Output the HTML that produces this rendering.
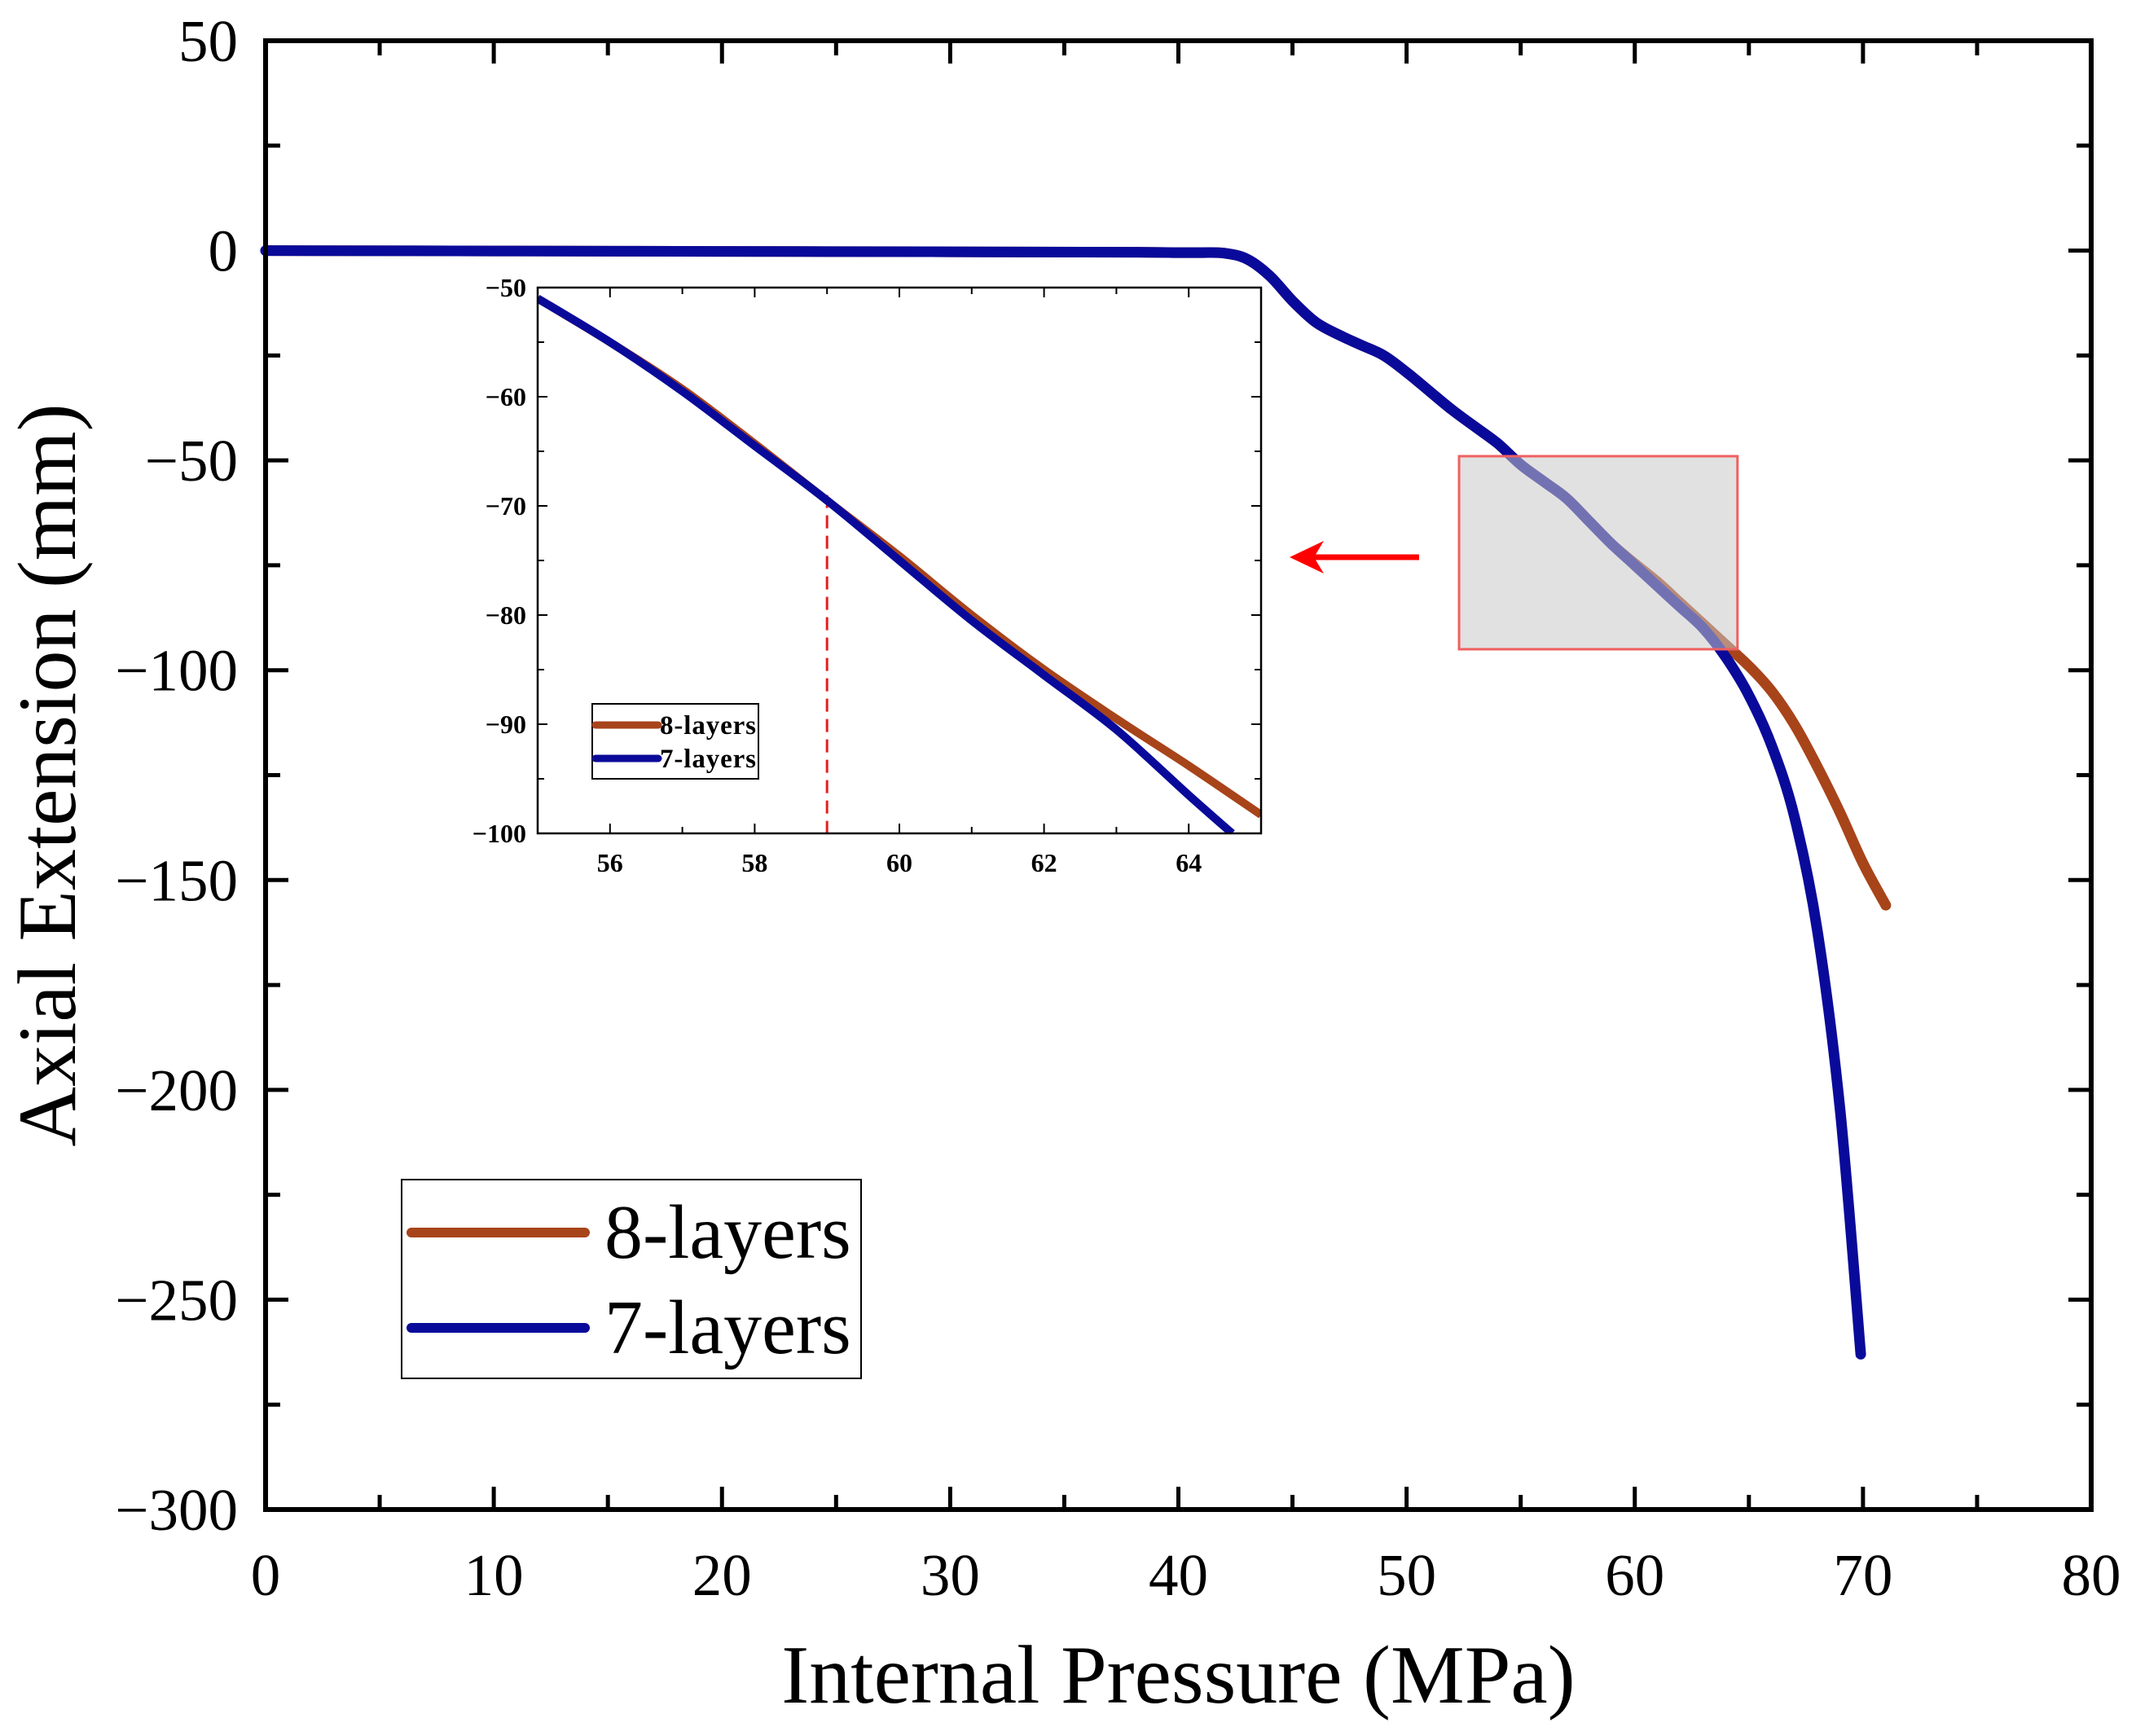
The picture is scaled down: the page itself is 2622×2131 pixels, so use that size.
<!DOCTYPE html>
<html><head><meta charset="utf-8"><style>
html,body{margin:0;padding:0;background:#fff}
svg{display:block;font-family:"Liberation Serif",serif}
</style></head><body>
<svg id="c" width="2622" height="2131" viewBox="0 0 2622 2131"></svg>
<script>
const xTicks=[0,10,20,30,40,50,60,70,80];
const yTicks=[50,0,-50,-100,-150,-200,-250,-300];
const s7x=[0,10,20,30,38,40,41,42,43,44,45,46,47,48,49,50,51,52,53,54,55,56,57,58,59,60,61,62,63,64,65,66,67,68,69,69.9];
const s7y=[0,-0.1,-0.2,-0.3,-0.4,-0.5,-0.5,-0.6,-2,-6,-12,-17,-20,-22.5,-25,-29,-33.5,-38,-42,-46,-51,-55,-59,-64.5,-70,-75,-80,-85,-90,-97,-106,-118,-135,-162,-205,-263];
const s8x=[0,10,20,30,38,40,41,42,43,44,45,46,47,48,49,50,51,52,53,54,55,56,57,58,59,60,61,62,63,64,65,66,67,68,69,70,71];
const s8y=[0,-0.1,-0.2,-0.3,-0.4,-0.5,-0.5,-0.6,-2,-6,-12,-17,-20,-22.5,-25,-29,-33.5,-38,-42,-46,-51,-55,-59,-64.5,-70,-74.6,-79,-84,-89,-94,-99,-105,-113,-123,-134,-146,-156];
const iXTicks=[56,58,60,62,64];
const iYTicks=[-50,-60,-70,-80,-90,-100];
const i7x=[55,56,57,58,59,60,61,62,63,64,64.6];
const i7y=[-51,-55,-59.5,-64.5,-69.5,-75,-80.5,-85.5,-90.5,-96.5,-100];
const i8x=[55,56,57,58,59,60,61,62,63,64,65];
const i8y=[-51,-55,-59.3,-64.3,-69.5,-74.6,-80,-85,-89.5,-93.8,-98.3];

const NS="http://www.w3.org/2000/svg";
const svg=document.getElementById('c');
function el(t,a,p){const e=document.createElementNS(NS,t);for(const k in a)e.setAttribute(k,a[k]);(p||svg).appendChild(e);return e;}
const L=326,R=2567,T=50,B=1853;
const X=v=>L+(v-0)*(R-L)/80;
const Y=v=>T+(50-v)*(B-T)/350;
const IL=660,IR=1548,IT=353,IB=1023;
const IX=v=>IL+(v-55)*(IR-IL)/10;
const IY=v=>IT+(-50-v)*(IB-IT)/50;
function path(xs,ys,fx,fy){
 const P=xs.map((x,i)=>[fx(x),fy(ys[i])]);
 let d='M'+P[0][0].toFixed(1)+','+P[0][1].toFixed(1);
 for(let i=0;i<P.length-1;i++){
  const p0=P[i-1]||P[i],p1=P[i],p2=P[i+1],p3=P[i+2]||P[i+1];
  const c1=[p1[0]+(p2[0]-p0[0])/6,p1[1]+(p2[1]-p0[1])/6];
  const c2=[p2[0]-(p3[0]-p1[0])/6,p2[1]-(p3[1]-p1[1])/6];
  d+='C'+c1.map(v=>v.toFixed(1)).join(',')+' '+c2.map(v=>v.toFixed(1)).join(',')+' '+p2[0].toFixed(1)+','+p2[1].toFixed(1);
 }
 return d;}

const g=el('g',{});


for(let v=0;v<=80;v+=5){const maj=v%10===0,len=maj?28:18;
 el('line',{x1:X(v),x2:X(v),y1:B,y2:B-len,stroke:'#000','stroke-width':5},g);
 el('line',{x1:X(v),x2:X(v),y1:T,y2:T+len,stroke:'#000','stroke-width':5},g);}
for(let v=-300;v<=50;v+=25){const maj=v%50===0,len=maj?28:18;
 el('line',{x1:L,x2:L+len,y1:Y(v),y2:Y(v),stroke:'#000','stroke-width':5},g);
 el('line',{x1:R,x2:R-len,y1:Y(v),y2:Y(v),stroke:'#000','stroke-width':5},g);}
xTicks.forEach(v=>{const t=el('text',{x:X(v),y:1958,'font-size':73,'text-anchor':'middle'});t.textContent=v;
 });
yTicks.forEach(v=>{const t=el('text',{x:292,y:Y(v)+25,'font-size':73,'text-anchor':'end'});t.textContent=(v<0?'\u2212'+(-v):v);
 });
let t=el('text',{x:(L+R)/2,y:2090,'font-size':102,'text-anchor':'middle'});t.textContent='Internal Pressure (MPa)';

t=el('text',{x:0,y:0,'font-size':102,'text-anchor':'middle',transform:'translate(92,'+((T+B)/2)+') rotate(-90)'});t.textContent='Axial Extension (mm)';


let p=el('path',{d:path(s8x,s8y,X,Y),fill:'none',stroke:'#a8441a','stroke-width':13,'stroke-linejoin':'round','stroke-linecap':'round'});

p=el('path',{d:path(s7x,s7y,X,Y),fill:'none',stroke:'#0a0a9a','stroke-width':13,'stroke-linejoin':'round','stroke-linecap':'round'});

let r=el('rect',{x:X(52.3),y:Y(-49),width:X(64.5)-X(52.3),height:Y(-95)-Y(-49),fill:'rgba(200,200,200,0.55)',stroke:'#f06060','stroke-width':3});

el('rect',{x:L,y:T,width:R-L,height:B-T,fill:'none',stroke:'#000','stroke-width':6});

const ag=el('g',{});
el('line',{x1:1742,y1:684,x2:1610,y2:684,stroke:'#f00','stroke-width':7},ag);
el('polygon',{points:'1583,684 1625,664 1613,684 1625,704',fill:'#f00'},ag);

const lg=el('g',{});
el('rect',{x:493,y:1448,width:564,height:244,fill:'#fff',stroke:'#000','stroke-width':2},lg);
[['8-layers','#a8441a',1513],['7-layers','#0a0a9a',1630]].forEach(([n,c,y])=>{
 const e=el('g',{},lg);
 el('line',{x1:505,x2:718,y1:y,y2:y,stroke:c,'stroke-width':12,'stroke-linecap':'round'},e);
 const tt=el('text',{x:742,y:y+31,'font-size':94},e);tt.textContent=n;});

const ig=el('g',{});
el('rect',{x:IL,y:IT,width:IR-IL,height:IB-IT,fill:'#fff'},ig);
for(let v=55;v<=65;v+=1){const len=v%2===0?12:8;
 el('line',{x1:IX(v),x2:IX(v),y1:IB,y2:IB-len,stroke:'#000','stroke-width':2},ig);
 el('line',{x1:IX(v),x2:IX(v),y1:IT,y2:IT+len,stroke:'#000','stroke-width':2},ig);}
for(let v=-100;v<=-50;v+=5){const len=v%10===0?12:8;
 el('line',{x1:IL,x2:IL+len,y1:IY(v),y2:IY(v),stroke:'#000','stroke-width':2},ig);
 el('line',{x1:IR,x2:IR-len,y1:IY(v),y2:IY(v),stroke:'#000','stroke-width':2},ig);}
iXTicks.forEach(v=>{const tt=el('text',{x:IX(v),y:1070,'font-size':32,'font-weight':'bold','text-anchor':'middle'},ig);tt.textContent=v;
 });
iYTicks.forEach(v=>{const tt=el('text',{x:646,y:IY(v)+11,'font-size':32,'font-weight':'bold','text-anchor':'end'},ig);tt.textContent='\u2212'+(-v);
 });
const cp=el('clipPath',{id:'ic'},ig);el('rect',{x:IL,y:IT,width:IR-IL,height:IB-IT},cp);
let dl=el('line',{x1:IX(59),x2:IX(59),y1:IY(-69),y2:IB,stroke:'#e02020','stroke-width':3,'stroke-dasharray':'16,9'},ig);

p=el('path',{d:path(i8x,i8y,IX,IY),fill:'none',stroke:'#a8441a','stroke-width':10,'clip-path':'url(#ic)'},ig);

p=el('path',{d:path(i7x,i7y,IX,IY),fill:'none',stroke:'#0a0a9a','stroke-width':10,'clip-path':'url(#ic)'},ig);

el('rect',{x:IL,y:IT,width:IR-IL,height:IB-IT,fill:'none',stroke:'#000','stroke-width':2.5},ig);
const il=el('g',{},ig);
el('rect',{x:727,y:864,width:204,height:92,fill:'#fff',stroke:'#000','stroke-width':2},il);
[['8-layers','#a8441a',890],['7-layers','#0a0a9a',931]].forEach(([n,c,y])=>{
 const e=el('g',{},il);
 el('line',{x1:731,x2:808,y1:y,y2:y,stroke:c,'stroke-width':9,'stroke-linecap':'round'},e);
 const tt=el('text',{x:810,y:y+11,'font-size':33,'font-weight':'bold','textLength':118},e);tt.textContent=n;});
</script>
</body></html>
